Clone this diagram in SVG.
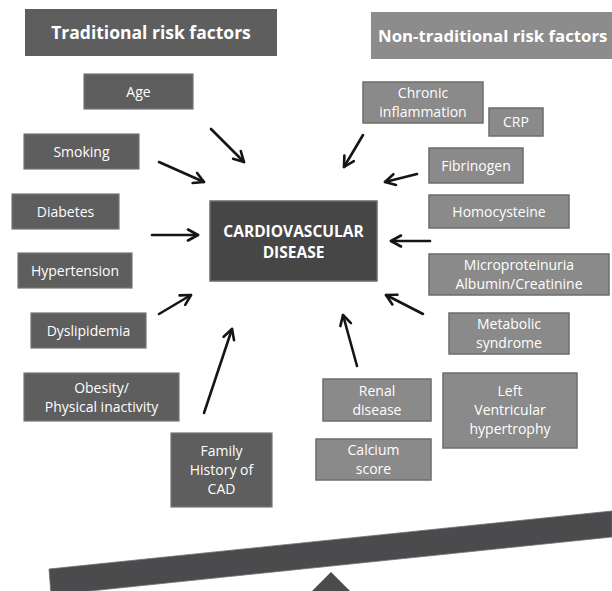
<svg xmlns="http://www.w3.org/2000/svg" width="612" height="591" viewBox="0 0 612 591">
<defs>
<style>
.bg{fill:#ffffff}
.trad rect{fill:#5e5e5e;stroke:#767676;stroke-width:1.2}
.non rect{fill:#8a8a8a;stroke:#6c6c6c;stroke-width:1.5}
.title text{font-family:"Open Sans","Liberation Sans",sans-serif;font-weight:bold;font-size:17.5px;fill:#ffffff}
.lbl{font-family:"Open Sans","Liberation Sans",sans-serif;font-size:14px;fill:#ffffff;text-anchor:middle}
.cvd rect{fill:#464646;stroke:#6a6a6a;stroke-width:1.5}
.cvd text{font-family:"Open Sans","Liberation Sans",sans-serif;font-weight:bold;font-size:15.5px;fill:#ffffff;text-anchor:middle}
.arr{stroke:#151515;stroke-width:2.6;fill:none;stroke-linecap:round;marker-end:url(#ah)}
</style>
<marker id="ah" viewBox="0 0 14 14" refX="12" refY="7" markerWidth="14" markerHeight="14" orient="auto" markerUnits="userSpaceOnUse">
<path d="M2,1.5 L12,7 L2,12.5" fill="none" stroke="#151515" stroke-width="2.6" stroke-linecap="round" stroke-linejoin="round"/>
</marker>
</defs>
<rect class="bg" x="0" y="0" width="612" height="591"/>

<g id="title-traditional" class="title trad">
<rect x="25" y="9" width="252" height="47" style="stroke:none"/>
<text x="151" y="39" text-anchor="middle">Traditional risk factors</text>
</g>
<g id="title-nontraditional" class="title">
<rect x="371" y="12" width="260" height="47" fill="#8c8c8c"/>
<text x="378" y="42" style="font-size:16.8px">Non-traditional risk factors</text>
</g>

<g id="age" class="trad"><rect x="84" y="74" width="109" height="35"/><text class="lbl" x="138.5" y="96.5">Age</text></g>
<g id="smoking" class="trad"><rect x="24" y="134" width="115" height="35"/><text class="lbl" x="81.5" y="156.5">Smoking</text></g>
<g id="diabetes" class="trad"><rect x="12" y="194" width="107" height="35"/><text class="lbl" x="65.5" y="216.5">Diabetes</text></g>
<g id="hypertension" class="trad"><rect x="18" y="253" width="114" height="35"/><text class="lbl" x="75" y="275.5">Hypertension</text></g>
<g id="dyslipidemia" class="trad"><rect x="31" y="313" width="115" height="35"/><text class="lbl" x="88.5" y="335.5">Dyslipidemia</text></g>
<g id="obesity" class="trad"><rect x="24" y="373" width="155" height="48"/><text class="lbl" x="101.5" y="393">Obesity/</text><text class="lbl" x="101.5" y="412">Physical inactivity</text></g>
<g id="family" class="trad"><rect x="171" y="433" width="101" height="74"/><text class="lbl" x="221.5" y="456">Family</text><text class="lbl" x="221.5" y="475">History of</text><text class="lbl" x="221.5" y="494">CAD</text></g>

<g id="cvd" class="cvd"><rect x="210" y="201" width="167" height="80"/><text x="293.5" y="237">CARDIOVASCULAR</text><text x="293.5" y="258">DISEASE</text></g>

<g id="chronic" class="non"><rect x="363" y="82" width="120" height="41"/><text class="lbl" x="423" y="98">Chronic</text><text class="lbl" x="423" y="117">inflammation</text></g>
<g id="crp" class="non"><rect x="489" y="108" width="54" height="28"/><text class="lbl" x="516" y="127">CRP</text></g>
<g id="fibrinogen" class="non"><rect x="429" y="148" width="94" height="35"/><text class="lbl" x="476" y="170.5">Fibrinogen</text></g>
<g id="homocysteine" class="non"><rect x="429" y="195" width="140" height="33"/><text class="lbl" x="499" y="216.5">Homocysteine</text></g>
<g id="microproteinuria" class="non"><rect x="429" y="254" width="180" height="41"/><text class="lbl" x="519" y="270">Microproteinuria</text><text class="lbl" x="519" y="289">Albumin/Creatinine</text></g>
<g id="metabolic" class="non"><rect x="449" y="313" width="120" height="41"/><text class="lbl" x="509" y="329">Metabolic</text><text class="lbl" x="509" y="348">syndrome</text></g>
<g id="lvh" class="non"><rect x="443" y="373" width="134" height="75"/><text class="lbl" x="510" y="396">Left</text><text class="lbl" x="510" y="415">Ventricular</text><text class="lbl" x="510" y="434">hypertrophy</text></g>
<g id="renal" class="non"><rect x="323" y="379" width="108" height="42"/><text class="lbl" x="377" y="396">Renal</text><text class="lbl" x="377" y="415">disease</text></g>
<g id="calcium" class="non"><rect x="316" y="439" width="115" height="41"/><text class="lbl" x="373.5" y="455">Calcium</text><text class="lbl" x="373.5" y="474">score</text></g>

<g id="connectors">
<line class="arr" x1="211" y1="129" x2="244" y2="162"/>
<line class="arr" x1="159" y1="162" x2="204" y2="182"/>
<line class="arr" x1="152" y1="235" x2="198" y2="235"/>
<line class="arr" x1="159" y1="314" x2="191" y2="295"/>
<line class="arr" x1="204" y1="413" x2="232" y2="329"/>
<line class="arr" x1="363" y1="135" x2="344" y2="167"/>
<line class="arr" x1="417" y1="174" x2="385" y2="182"/>
<line class="arr" x1="430" y1="241" x2="391" y2="241"/>
<line class="arr" x1="423" y1="314" x2="386" y2="295"/>
<line class="arr" x1="357" y1="366" x2="343" y2="315"/>
</g>

<g id="balance">
<polygon points="49,569 612,511 612,537 51,595" fill="#4b4b4d" stroke="#707070" stroke-width="0.8"/>
<polygon points="331,572 300,603 362,603" fill="#4b4b4d"/>
</g>
</svg>
